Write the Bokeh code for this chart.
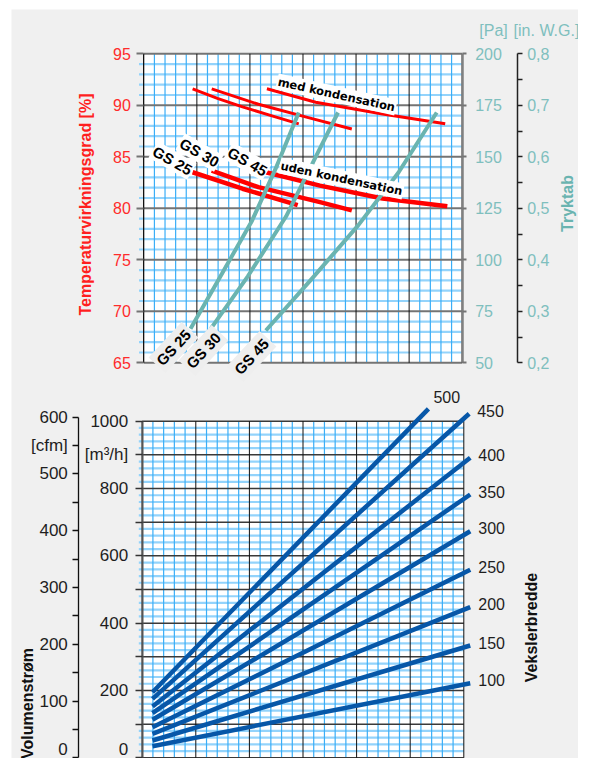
import numpy as np
from bokeh.plotting import figure
from bokeh.models import Range1d, LinearAxis, FixedTicker, CustomJSTickFormatter
from bokeh.core.properties import value
from bokeh.embed import file_html
from bokeh.resources import INLINE

# ---------------- data ----------------
# common abscissa of both charts: 0..30 grid units (unlabelled)
# Temperature efficiency, "med kondensation"
med25_x = [4.6, 7.0, 9.3, 12.0, 14.6]
med25_t = [91.6, 90.65, 89.85, 89.0, 88.2]
med30_x = [6.4, 10.8, 15.5, 19.6]
med30_t = [91.6, 90.1, 88.8, 87.7]
med45_x = [11.6, 16.2, 22.5, 28.4]
med45_t = [91.6, 90.3, 89.15, 88.2]
# Temperature efficiency, "uden kondensation"
ud25_x = [4.6, 9.3, 14.5]
ud25_t = [83.5, 81.9, 80.3]
ud30_x = [6.4, 10.8, 16.6, 19.6]
ud30_t = [83.65, 82.05, 80.6, 79.8]
ud45_x = [11.5, 16.6, 22.5, 28.6]
ud45_t = [83.5, 82.2, 80.95, 80.2]
# Pressure drop [Pa]
dp25_x = [4.4, 7.0, 10.2, 12.4, 14.6]
dp25_pa = [66.5, 90.0, 119.0, 144.0, 171.5]
dp30_x = [6.3, 9.8, 13.4, 16.2, 18.3]
dp30_pa = [66.5, 92.0, 121.0, 150.0, 171.5]
dp45_x = [11.5, 15.7, 20.2, 24.0, 27.6]
dp45_pa = [65.7, 90.0, 116.7, 142.4, 171.5]
gs_names = ["GS 25", "GS 30", "GS 45"]

# Bottom chart: air flow [m3/h] per exchanger width
bw_widths = [100, 150, 200, 250, 300, 350, 400, 450, 500]
bw_x_start = [0.96, 0.96, 0.96, 0.96, 0.96, 0.96, 0.96, 0.96, 0.96]
bw_m_start = [34.5, 51.4, 71.3, 90.9, 112.9, 132.5, 152.4, 175.2, 194.9]
bw_x_end = [30.6, 30.6, 30.6, 30.6, 30.6, 30.6, 30.6, 30.5, 26.7]
bw_m_end = [221.6, 333.6, 447.4, 558.5, 673.2, 782.2, 891.3, 1022.0, 1036.8]

# tick values
temp_ticks = [65, 70, 75, 80, 85, 90, 95]
pa_ticks = [50, 75, 100, 125, 150, 175, 200]
wg_ticks = [0.2, 0.3, 0.4, 0.5, 0.6, 0.7, 0.8]
wg_minor = [0.25, 0.35, 0.45, 0.55, 0.65, 0.75]
m3h_ticks = [0, 100, 200, 300, 400, 500, 600, 700, 800, 900, 1000]
cfm_ticks = [0, 50, 100, 150, 200, 250, 300, 350, 400, 450, 500, 550, 600]

# ---------------- layout calibration (picture pixels) ----------------
FONT = "Liberation Sans"
W, H = 578, 758
L, R, T, B = 0, W, 0, H

XT0, XT_PX = 143.3, 10.613
YT95, YT_PX = 53.3, 10.3
XB0, XB_PX = 141.7, 10.72
YB0, YM_PX, YC_PX = 757.3, 0.3366, 0.5677

def xt(X): return (X - XT0) / XT_PX
def tt(Y): return 95 - (Y - YT95) / YT_PX
def pa(Y): return 200 - (Y - YT95) * 5 / YT_PX
def wg(Y): return 0.8 - (Y - YT95) * 0.02 / YT_PX
def xb(X): return (X - XB0) / XB_PX
def mm(Y): return (YB0 - Y) / YM_PX
def cc(Y): return (YB0 - Y) / YC_PX

p = figure(width=W, height=H, output_backend="svg", toolbar_location=None,
           x_axis_location=None, y_axis_location=None, min_border=0,
           x_range=Range1d(xt(L), xt(R)), y_range=Range1d(tt(B), tt(T)),
           background_fill_color="white", border_fill_color="white",
           outline_line_color=None)
p.extra_x_ranges = {"xb": Range1d(xb(L), xb(R))}
p.extra_y_ranges = {"pa": Range1d(pa(B), pa(T)), "wg": Range1d(wg(B), wg(T)),
                    "m3h": Range1d(mm(B), mm(T)), "cfm": Range1d(cc(B), cc(T))}
p.xgrid.visible = False
p.ygrid.visible = False

# gray panel
p.quad(left=xt(11), right=xt(620), bottom=tt(800), top=tt(9),
       fill_color="#f0f0f0", line_color=None)

# ---------- top chart grid ----------
p.quad(left=0, right=30, bottom=65, top=95, fill_color="white", line_color=None)
hmin = [v for v in range(66, 95) if v % 5]
p.segment(x0=[xt(138.5)] * len(hmin), y0=hmin, x1=[30] * len(hmin), y1=hmin,
          line_color="#93d3fb", line_width=2.2)
vmin = [v for v in range(1, 30) if v % 5]
p.segment(x0=vmin, y0=[65] * len(vmin), x1=vmin, y1=[95] * len(vmin),
          line_color="#3aaef7", line_width=1.2)
hmaj = list(range(65, 96, 5))
p.segment(x0=[0] * len(hmaj), y0=hmaj, x1=[30] * len(hmaj), y1=hmaj,
          line_color="#747474", line_width=2)
vmaj = list(range(0, 31, 5))
p.segment(x0=vmaj, y0=[65] * len(vmaj), x1=vmaj, y1=[95] * len(vmaj),
          line_color="#111111", line_width=1)

# ---------- bottom chart grid ----------
p.quad(left=0, right=30, bottom=0, top=1000, fill_color="white", line_color=None,
       x_range_name="xb", y_range_name="m3h")
bh = [v for v in range(20, 1000, 20) if v % 100]
p.segment(x0=[xb(138.3)] * len(bh), y0=bh, x1=[30] * len(bh), y1=bh,
          line_color="#93d3fb", line_width=2.2, x_range_name="xb", y_range_name="m3h")
p.segment(x0=vmin, y0=[0] * len(vmin), x1=vmin, y1=[1000] * len(vmin),
          line_color="#3aaef7", line_width=1.2, x_range_name="xb", y_range_name="m3h")
bmaj = list(range(0, 1001, 100))
p.segment(x0=[0] * len(bmaj), y0=bmaj, x1=[30] * len(bmaj), y1=bmaj,
          line_color="#3a3a3a", line_width=1.5, x_range_name="xb", y_range_name="m3h")
p.segment(x0=vmaj, y0=[0] * len(vmaj), x1=vmaj, y1=[1000] * len(vmaj),
          line_color="#111111", line_width=1, x_range_name="xb", y_range_name="m3h")

# ---------- top chart curves ----------
p.multi_line(xs=[med25_x, med30_x, med45_x], ys=[med25_t, med30_t, med45_t],
             line_color="#ff0000", line_width=3, line_join="round")
p.multi_line(xs=[ud25_x, ud30_x, ud45_x], ys=[ud25_t, ud30_t, ud45_t],
             line_color="#ff0000", line_width=4.5, line_join="round")
p.multi_line(xs=[dp25_x, dp30_x, dp45_x], ys=[dp25_pa, dp30_pa, dp45_pa],
             line_color="#6ab4b0", line_width=4, line_join="round", y_range_name="pa")

# ---------- bottom chart lines ----------
p.multi_line(xs=[[a, b] for a, b in zip(bw_x_start, bw_x_end)],
             ys=[[a, b] for a, b in zip(bw_m_start, bw_m_end)],
             line_color="#0757a8", line_width=4.5, x_range_name="xb", y_range_name="m3h")
p.text(x=bw_x_end, y=bw_m_end, text=[str(w) for w in bw_widths],
       x_offset=[8] * 8 + [5], y_offset=[-3] * 8 + [-12],
       text_font=value(FONT), text_font_size="16px", text_color="#1e1e1e",
       text_align="left", text_baseline="middle", x_range_name="xb", y_range_name="m3h")

# ---------- curve labels ----------
p.text(x=[xt(336)], y=[tt(94)], text=["med kondensation"], angle=-12.5, angle_units="deg",
       text_font=value("DejaVu Sans"), text_font_style="bold", text_font_size="11.5px",
       text_color="black", text_align="center", text_baseline="middle",
       background_fill_color="white", padding=1)
p.text(x=[xt(341)], y=[tt(178)], text=["uden kondensation"], angle=-12, angle_units="deg",
       text_font=value("DejaVu Sans"), text_font_style="bold", text_font_size="11.5px",
       text_color="black", text_align="center", text_baseline="middle",
       background_fill_color="white", padding=1)
p.text(x=[xt(172), xt(199), xt(247)], y=[tt(160), tt(152), tt(161)], text=gs_names,
       angle=-30, angle_units="deg", text_font=value(FONT), text_font_style="bold",
       text_font_size="15px", text_color="black", text_align="center",
       text_baseline="middle", background_fill_color="white", padding=1)
p.text(x=[xt(173), xt(203), xt(251)], y=[tt(347), tt(350), tt(356)], text=gs_names,
       angle=47, angle_units="deg", text_font=value(FONT), text_font_style="bold",
       text_font_size="15px", text_color="black", text_align="center",
       text_baseline="middle", background_fill_color="#eeeeee", padding=3)

# ---------- axis titles ----------
def title(X, Y, s, color, size="16px", angle=90, style="bold"):
    p.text(x=[xt(X)], y=[tt(Y)], text=[s], angle=angle, angle_units="deg",
           text_font=value(FONT), text_font_style=style, text_font_size=size,
           text_color=color, text_align="center", text_baseline="middle")

title(85, 204, "Temperaturvirkningsgrad [%]", "#ff1f1f")
title(567, 203, "Tryktab", "#6ab4b0")
title(27, 703, "Volumenstrøm", "#111111")
title(531, 627, "Vekslerbredde", "#111111")
title(493, 30, "[Pa]", "#7fbfbe", size="16px", angle=0, style="normal")
title(546, 30, "[in. W.G.]", "#7fbfbe", size="16px", angle=0, style="normal")

# ---------- axes ----------
def style_axis(ax, color, size, standoff):
    ax.major_label_text_font = FONT
    ax.major_label_text_font_size = size
    ax.major_label_text_color = color
    ax.major_label_standoff = standoff
    ax.major_tick_in = 0
    ax.minor_tick_in = 0

ax_t = LinearAxis(bounds=(65, 95), fixed_location=0,
                  ticker=FixedTicker(ticks=temp_ticks, minor_ticks=[]))
style_axis(ax_t, "#ff2b2b", "16px", 6)
ax_t.major_tick_out = 7
ax_t.major_tick_line_color = "#747474"
ax_t.major_tick_line_width = 2
ax_t.axis_line_color = "#111111"
p.add_layout(ax_t, "left")

ax_pa = LinearAxis(y_range_name="pa", bounds=(50, 200), fixed_location=30,
                   ticker=FixedTicker(ticks=pa_ticks, minor_ticks=[]))
style_axis(ax_pa, "#7fbfbe", "16px", 9)
ax_pa.major_tick_out = 4
ax_pa.major_tick_line_color = "#747474"
ax_pa.major_tick_line_width = 2
ax_pa.axis_line_color = "#808080"
ax_pa.axis_line_width = 2.5
p.add_layout(ax_pa, "right")

ax_wg = LinearAxis(y_range_name="wg", bounds=(0.2, 0.8), fixed_location=xt(516.7),
                   ticker=FixedTicker(ticks=wg_ticks, minor_ticks=wg_minor),
                   formatter=CustomJSTickFormatter(code="return tick.toFixed(1).replace('.', ',');"))
style_axis(ax_wg, "#7fbfbe", "16px", 5)
ax_wg.major_tick_out = 5
ax_wg.minor_tick_out = 5
ax_wg.major_tick_line_color = "#222222"
ax_wg.minor_tick_line_color = "#222222"
ax_wg.major_tick_line_width = 1.5
ax_wg.minor_tick_line_width = 1.5
ax_wg.axis_line_color = "#222222"
ax_wg.axis_line_width = 1.5
p.add_layout(ax_wg, "right")

ax_m = LinearAxis(x_range_name="xb", y_range_name="m3h", bounds=(0, 1000), fixed_location=0,
                  ticker=FixedTicker(ticks=m3h_ticks, minor_ticks=[]),
                  formatter=CustomJSTickFormatter(code="""
const v = Math.round(tick);
if (v === 900) return '[m\u00b3/h]';
return (v % 200 === 0) ? String(v) : '';"""))
style_axis(ax_m, "#1e1e1e", "17px", 7)
ax_m.major_tick_out = 7
ax_m.major_tick_line_color = "#333333"
ax_m.major_tick_line_width = 1.5
ax_m.axis_line_color = "#555555"
ax_m.axis_line_width = 2
p.add_layout(ax_m, "left")

ax_c = LinearAxis(x_range_name="xb", y_range_name="cfm", bounds=(0, 600), fixed_location=xb(78.3),
                  ticker=FixedTicker(ticks=cfm_ticks, minor_ticks=[]),
                  formatter=CustomJSTickFormatter(code="""
const v = Math.round(tick);
if (v === 550) return '[cfm]';
return (v % 100 === 0) ? String(v) : '';"""))
style_axis(ax_c, "#1e1e1e", "17px", 5)
ax_c.major_tick_out = 6
ax_c.major_tick_line_color = "#111111"
ax_c.major_tick_line_width = 1.3
ax_c.axis_line_color = "#111111"
ax_c.axis_line_width = 1.3
p.add_layout(ax_c, "left")

open("out.html", "w").write(file_html(p, INLINE))
